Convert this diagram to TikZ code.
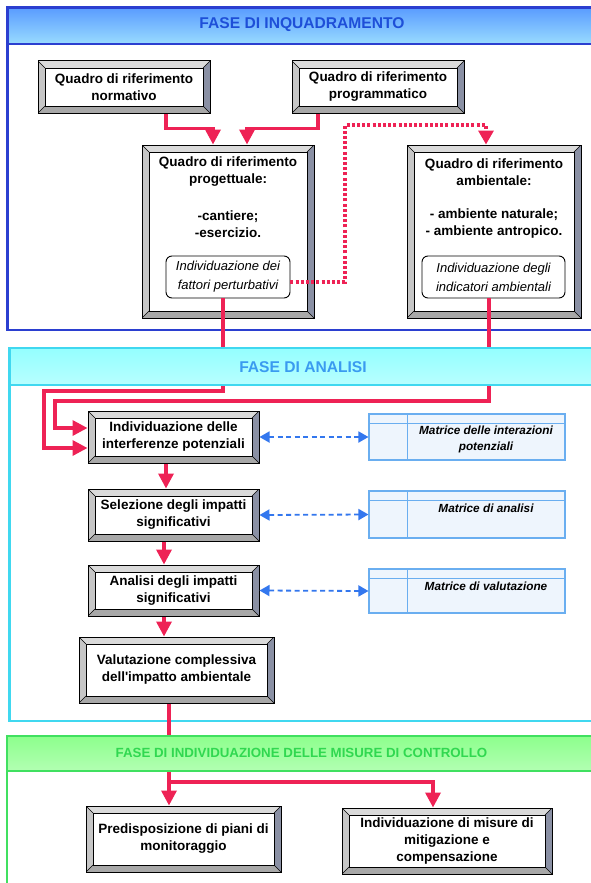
\documentclass[tikz,border=0pt]{standalone}
\usepackage{fontspec}
\setmainfont{Liberation Sans}[Ligatures=TeXOff]
\usetikzlibrary{arrows.meta,calc}
\definecolor{pblue}{HTML}{2B3FD0}
\definecolor{pcyan}{HTML}{40D8F0}
\definecolor{pgreen}{HTML}{40E060}
\definecolor{tblue}{HTML}{1E4FD8}
\definecolor{tcyan}{HTML}{3A9BF0}
\definecolor{tgreen}{HTML}{30D850}
\definecolor{cred}{HTML}{EE2255}
\definecolor{dblue}{HTML}{3377EE}
\definecolor{mfill}{HTML}{EEF5FD}
\definecolor{mline}{HTML}{6AAEF0}
\definecolor{bevT}{HTML}{DADADA}
\definecolor{bevL}{HTML}{C6C6C6}
\definecolor{bevR}{HTML}{8A90A4}
\definecolor{bevB}{HTML}{A8A8A8}
\begin{document}
\begin{tikzpicture}[x=1pt,y=-1pt,
  bev/.style={draw=black, line width=1pt, fill=white, inner sep=0pt, align=center,
    font=\fontsize{13.5}{17}\selectfont\bfseries,
    path picture={
      \coordinate (pnw) at (path picture bounding box.north west);
      \coordinate (pne) at (path picture bounding box.north east);
      \coordinate (psw) at (path picture bounding box.south west);
      \coordinate (pse) at (path picture bounding box.south east);
      \coordinate (inw) at ([xshift=7pt,yshift=-7pt]pnw);
      \coordinate (ine) at ([xshift=-7pt,yshift=-7pt]pne);
      \coordinate (isw) at ([xshift=7pt,yshift=7pt]psw);
      \coordinate (ise) at ([xshift=-7pt,yshift=7pt]pse);
      \fill[bevT] (pnw) -- (pne) -- (ine) -- (inw) -- cycle;
      \fill[bevL] (pnw) -- (inw) -- (isw) -- (psw) -- cycle;
      \fill[bevR] (pne) -- (pse) -- (ise) -- (ine) -- cycle;
      \fill[bevB] (psw) -- (pse) -- (ise) -- (isw) -- cycle;
      \draw[black, line width=0.8pt] (inw) rectangle (ise);
      \draw[black, line width=0.5pt] (pnw) -- (inw) (pne) -- (ine) (psw) -- (isw) (pse) -- (ise);
    }},
  btxt/.style={inner sep=0pt, align=center, font=\fontsize{13.5}{17}\selectfont\bfseries},
  inbox/.style={draw=black, line width=0.9pt, fill=white, rounded corners=6pt, align=center,
    inner sep=0pt, font=\fontsize{13}{19}\selectfont\itshape},
  mat/.style={draw=mline, line width=1.1pt, fill=mfill, minimum width=196pt, inner sep=0pt,
    path picture={
      \draw[mline, line width=1pt] ([yshift=-9pt]path picture bounding box.north west) -- ([yshift=-9pt]path picture bounding box.north east);
      \draw[mline, line width=1pt] ([xshift=38pt]path picture bounding box.north west) -- ([xshift=38pt]path picture bounding box.south west);
    }},
  mtxt/.style={inner sep=0pt, align=center, font=\fontsize{11.8}{16}\selectfont\bfseries\itshape},
  ra/.style={draw=cred, line width=3.4pt, -{Triangle[width=15pt,length=15pt]}},
  rl/.style={draw=cred, line width=3.4pt},
  rdot/.style={draw=cred, line width=3.2pt, dash pattern=on 3pt off 2.2pt, -{Triangle[width=15pt,length=14pt]}},
  bda/.style={draw=dblue, line width=1.8pt, dash pattern=on 5pt off 3.5pt,
    {Triangle[width=11pt,length=10pt]}-{Triangle[width=11pt,length=10pt]}},
  htxt/.style={inner sep=0pt, font=\fontsize{15.6}{18}\selectfont\bfseries}
]
\useasboundingbox (0,0) rectangle (591,883);
\clip (0,0) rectangle (591,883);
\fill[white] (0,0) rectangle (591,883);

% panel bodies
\draw[pblue, line width=2.5pt, fill=white] (7.5,7.5) rectangle (600,330);
\draw[pcyan, line width=2.5pt, fill=white] (9.5,348) rectangle (600,721);
\draw[pgreen, line width=2.5pt, fill=white] (7,736) rectangle (600,895);

% boxes of phase 1
\node[bev, minimum width=172pt, minimum height=52pt] (norm) at (124,87) {Quadro di riferimento\\normativo};
\node[bev, minimum width=172pt, minimum height=52pt] (prog) at (378,87) {Quadro di riferimento\\programmatico};
\node[bev, minimum width=172pt, minimum height=173pt] (proj) at (228,231.5) {};
\node[bev, minimum width=174pt, minimum height=173pt] (amb) at (494,231.5) {};
\node[btxt] (projt1) at (228,172) {Quadro di riferimento\\progettuale:};
\node[btxt] (projt2) at (228,224) {-cantiere;\\-esercizio.};
\node[btxt] (ambt1) at (494,172) {Quadro di riferimento\\ambientale:};
\node[btxt] (ambt2) at (494,224) {- ambiente naturale;\\- ambiente antropico.};
\node[inbox, minimum width=124pt, minimum height=42pt] (projin) at (228,277) {Individuazione dei\\fattori perturbativi};
\node[inbox, minimum width=143pt, minimum height=42pt] (ambin) at (493.5,277) {Individuazione degli\\indicatori ambientali};

% boxes of phase 2
\node[bev, minimum width=171pt, minimum height=52pt] (interf) at (173.5,437) {Individuazione delle\\interferenze potenziali};
\node[bev, minimum width=171pt, minimum height=52pt] (sel) at (173.5,515) {Selezione degli impatti\\significativi};
\node[bev, minimum width=171pt, minimum height=51pt] (ana) at (173.5,590.5) {Analisi degli impatti\\significativi};
\node[bev, minimum width=195pt, minimum height=66pt] (val) at (176.5,670) {Valutazione complessiva\\dell'impatto ambientale};
\node[mat, minimum height=46pt] (m1) at (467,437) {};
\node[mat, minimum height=47pt] (m2) at (467,514.5) {};
\node[mat, minimum height=44pt] (m3) at (467,591) {};
\node[mtxt] (m1t) at (486,439) {Matrice delle interazioni\\potenziali};
\node[mtxt] (m2t) at (486,508) {Matrice di analisi};
\node[mtxt] (m3t) at (486,586) {Matrice di valutazione};

% boxes of phase 3
\node[bev, minimum width=195pt, minimum height=66pt] (mon) at (183.5,839) {Predisposizione di piani di\\monitoraggio};
\node[bev, minimum width=210pt, minimum height=66pt] (mit) at (447,841) {Individuazione di misure di\\mitigazione e\\compensazione};

% connectors
\draw[ra] ([xshift=42pt]norm.south) -- ++(0,15) -| ([xshift=-15pt]proj.north);
\draw[ra] ([xshift=-60pt]prog.south) -- ++(0,15) -| ([xshift=19pt]proj.north);
\coordinate (d1) at (345,125);
\draw[rdot] ([yshift=-5pt]projin.east) -| (d1) -| ([xshift=-8pt]amb.north);
\coordinate (k1) at (44,391);
\coordinate (k2) at (55,401);
\draw[ra] ([xshift=-5pt]projin.south) |- (k1) |- ([yshift=-11pt]interf.west);
\draw[ra] ([xshift=-4.5pt]ambin.south) |- (k2) |- ([yshift=9pt]interf.west);
\draw[ra] ([xshift=-7.5pt]interf.south) -- ([xshift=-7.5pt]sel.north);
\draw[ra] ([xshift=-9.5pt]sel.south) -- ([xshift=-9.5pt]ana.north);
\draw[ra] ([xshift=-9.5pt]ana.south) -- ([xshift=-12.5pt]val.north);
\coordinate (k3) at (169,782);
\draw[ra] ([xshift=-7.5pt]val.south) -- ([xshift=-14.5pt]mon.north);
\draw[ra] (k3) -| ([xshift=-14pt]mit.north);
\draw[bda] (interf.east) -- (m1.west);
\draw[bda] (sel.east) -- (m2.west);
\draw[bda] (ana.east) -- (m3.west);

% headers
\shade[top color=blue!60!cyan!65, middle color=white!92!blue, bottom color=blue!35!cyan!40] (7.5,7.5) rectangle (600,44);
\draw[pblue, line width=2.5pt] (7.5,7.5) rectangle (600,44);
\node[htxt, text=tblue] (h1) at (302,25) {FASE DI INQUADRAMENTO};
\shade[top color=cyan!42, middle color=white!95!cyan, bottom color=cyan!28] (9.5,348) rectangle (600,385);
\draw[pcyan, line width=2.5pt] (9.5,348) rectangle (600,385);
\node[htxt, text=tcyan] (h2) at (303,367) {FASE DI ANALISI};
\shade[top color=green!45!white, middle color=white!94!green, bottom color=green!30!white] (7,736) rectangle (600,771);
\draw[pgreen, line width=2.5pt] (7,736) rectangle (600,771);
\node[htxt, text=tgreen, font=\fontsize{13.3}{16}\selectfont\bfseries] (h3) at (301.5,753) {FASE DI INDIVIDUAZIONE DELLE MISURE DI CONTROLLO};
\end{tikzpicture}
\end{document}
